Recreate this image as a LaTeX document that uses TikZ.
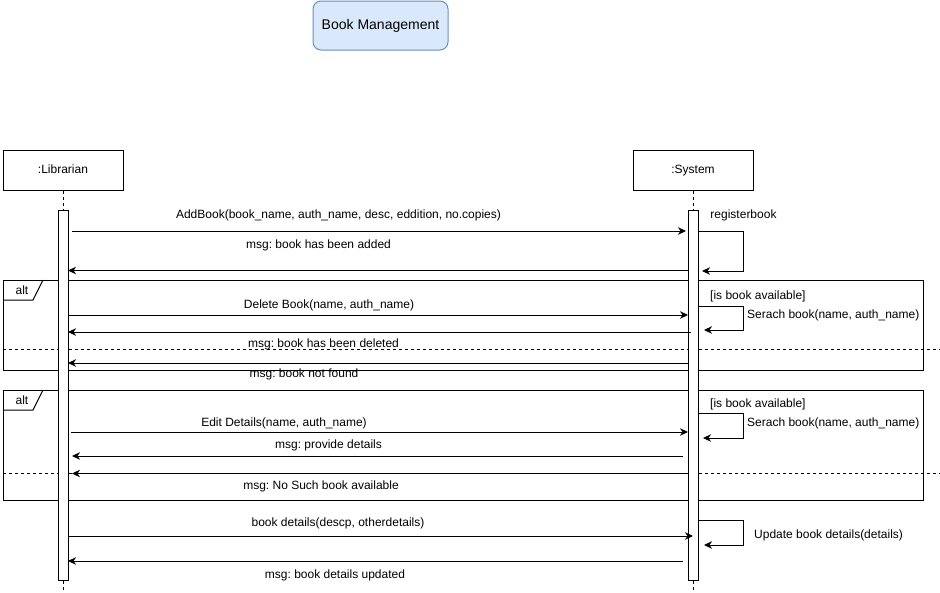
\documentclass[tikz,border=0pt]{standalone}
\usepackage{fontspec}
\setmainfont{Liberation Sans}
\usetikzlibrary{arrows.meta}
\definecolor{titlefill}{RGB}{218,232,252}
\definecolor{titleline}{RGB}{108,142,191}
\frenchspacing
\begin{document}
\begin{tikzpicture}[x=1pt,y=-1pt,
  font=\fontsize{12}{14}\selectfont,
  lifebox/.style={draw, line width=1pt, minimum width=120pt, minimum height=40pt,
    inner sep=0pt, text height=8.6pt, text depth=2.6pt, font=\fontsize{12}{14}\selectfont},
  titlebox/.style={draw=titleline, fill=titlefill, line width=1pt, rounded corners=8pt,
    minimum width=135pt, minimum height=49pt, inner sep=0pt, font=\fontsize{14}{16}\selectfont},
  actbar/.style={draw, fill=white, line width=1pt, minimum width=10pt, inner sep=0pt},
  lifeline/.style={line width=1pt, dash pattern=on 3pt off 3pt},
  msg/.style={line width=1pt, -{Stealth[length=8pt,width=7.5pt,inset=2.5pt]}},
  frameline/.style={line width=1pt},
  sepline/.style={line width=1pt, dash pattern=on 3pt off 3pt},
  lbl/.style={inner sep=0pt},
]
\useasboundingbox (0,0) rectangle (940,592);

% header
\node[titlebox] (title) at (380.5,25.5) {Book Management};

% participants and lifelines
\node[lifebox] (lib) at (63,170) {:Librarian};
\node[lifebox] (sys) at (693,170) {:System};
\coordinate (libend) at (63,592);
\coordinate (sysend) at (693,592);
\draw[lifeline] (lib.south) -- (libend);
\draw[lifeline] (sys.south) -- (sysend);

% combined fragments
\draw[frameline] (3,280) rectangle (923,370);
\draw[frameline] (3,300) -- (33,300) -- (43,280);
\node[lbl] (alt1) at (22,290.5) {alt};
\coordinate (sep1a) at (3,349.5);
\coordinate (sep1b) at (940,349.5);
\draw[sepline] (sep1a) -- (sep1b);

\draw[frameline] (3,390) rectangle (923,500);
\draw[frameline] (3,410) -- (33,410) -- (43,390);
\node[lbl] (alt2) at (22,400.5) {alt};
\coordinate (sep2a) at (3,473.5);
\coordinate (sep2b) at (940,473.5);
\draw[sepline] (sep2a) -- (sep2b);

% activation bars
\node[actbar, minimum height=370pt] (actL) at (63,395) {};
\node[actbar, minimum height=370pt] (actS) at (693,395) {};

% message end points
\coordinate (m1a) at (72,231);    \coordinate (m1b) at (686,231);
\coordinate (r1a) at (698,231);   \coordinate (r1b) at (743,231);
\coordinate (r1c) at (743,271);   \coordinate (r1d) at (702,271);
\coordinate (m2a) at (688,270.5); \coordinate (m2b) at (68,270.5);
\coordinate (m3a) at (68,315);    \coordinate (m3b) at (688,315);
\coordinate (s1a) at (698,306);   \coordinate (s1b) at (743,306);
\coordinate (s1c) at (743,330);   \coordinate (s1d) at (704,330);
\coordinate (m4a) at (691,332);   \coordinate (m4b) at (68,332);
\coordinate (m5a) at (688,363);   \coordinate (m5b) at (68,363);
\coordinate (m6a) at (71,432);    \coordinate (m6b) at (688,432);
\coordinate (s2a) at (698,413);   \coordinate (s2b) at (743,413);
\coordinate (s2c) at (743,438);   \coordinate (s2d) at (703,438);
\coordinate (m7a) at (683,456);   \coordinate (m7b) at (72,456);
\coordinate (m8a) at (688,473.5); \coordinate (m8b) at (72,473.5);
\coordinate (m9a) at (68,536);    \coordinate (m9b) at (693,536);
\coordinate (s3a) at (698,520.5); \coordinate (s3b) at (743,520.5);
\coordinate (s3c) at (743,545);   \coordinate (s3d) at (704,545);
\coordinate (m10a) at (683,561);  \coordinate (m10b) at (68,561);

% messages
\draw[msg] (m1a) -- (m1b);
\draw[msg] (r1a) -- (r1b) -- (r1c) -- (r1d);
\draw[msg] (m2a) -- (m2b);
\draw[msg] (m3a) -- (m3b);
\draw[msg] (s1a) -- (s1b) -- (s1c) -- (s1d);
\draw[msg] (m4a) -- (m4b);
\draw[msg] (m5a) -- (m5b);
\draw[msg] (m6a) -- (m6b);
\draw[msg] (s2a) -- (s2b) -- (s2c) -- (s2d);
\draw[msg] (m7a) -- (m7b);
\draw[msg] (m8a) -- (m8b);
\draw[msg] (m9a) -- (m9b);
\draw[msg] (s3a) -- (s3b) -- (s3c) -- (s3d);
\draw[msg] (m10a) -- (m10b);

% labels
\node[lbl] (l1) at (338.5,215.5) {AddBook(book\_name, auth\_name, desc, eddition, no.copies)};
\node[lbl] (l2) at (318.5,245.5) {msg: book has been added};
\node[lbl] (l3) at (743.5,215.5) {registerbook};
\node[lbl, anchor=west] (g1) at (710,296) {[is book available]};
\node[lbl] (l4) at (329,305.5) {Delete Book(name, auth\_name)};
\node[lbl, anchor=west] (l5) at (747,315) {Serach book(name, auth\_name)};
\node[lbl] (l6) at (323.5,344) {msg: book has been deleted};
\node[lbl] (l7) at (304,374) {msg: book not found};
\node[lbl, anchor=west] (g2) at (710,404) {[is book available]};
\node[lbl] (l8) at (284,423.5) {Edit Details(name, auth\_name)};
\node[lbl, anchor=west] (l9) at (747,423.5) {Serach book(name, auth\_name)};
\node[lbl] (l10) at (328.5,445) {msg: provide details};
\node[lbl] (l11) at (321,486) {msg: No Such book available};
\node[lbl] (l12) at (338,523.5) {book details(descp, otherdetails)};
\node[lbl, anchor=west] (l13) at (754,535.5) {Update book details(details)};
\node[lbl] (l14) at (335,575.5) {msg: book details updated};
\end{tikzpicture}
\end{document}
